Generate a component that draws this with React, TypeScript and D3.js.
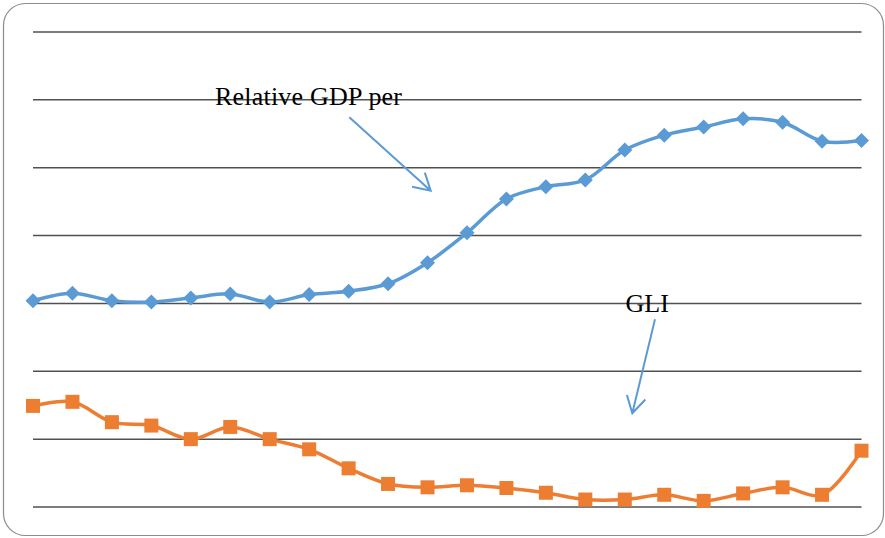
import React from "react";
import * as d3 from "d3";

const periods: number[] = d3.range(22);
const gdpValues: number[] = [3.04, 3.15, 3.04, 3.02, 3.08, 3.14, 3.02, 3.13, 3.18, 3.29, 3.6, 4.04, 4.54, 4.72, 4.82, 5.26, 5.48, 5.6, 5.72, 5.67, 5.39, 5.4];
const gliValues: number[] = [1.49, 1.55, 1.25, 1.2, 1.0, 1.18, 1.0, 0.85, 0.57, 0.34, 0.29, 0.32, 0.28, 0.21, 0.11, 0.11, 0.18, 0.09, 0.2, 0.29, 0.18, 0.83];
const gridValues: number[] = [0, 1, 2, 3, 4, 5, 6, 7];

const W = 885;
const H = 538;

const BLUE = "#5B9BD5";
const ORANGE = "#ED7D31";

function arrowPath(x1: number, y1: number, x2: number, y2: number, len = 19, ang = Math.PI / 6) {
  const a = Math.atan2(y2 - y1, x2 - x1);
  const p1 = [x2 - len * Math.cos(a - ang), y2 - len * Math.sin(a - ang)];
  const p2 = [x2 - len * Math.cos(a + ang), y2 - len * Math.sin(a + ang)];
  return `M${x1},${y1}L${x2},${y2}M${p1[0]},${p1[1]}L${x2},${y2}L${p2[0]},${p2[1]}`;
}

export default function App() {
  const x = d3.scaleLinear().domain([0, 21]).range([33, 861.5]);
  const y = d3.scaleLinear().domain([0, 7]).range([507, 32]);

  const line = d3
    .line<number>()
    .x((_, i) => x(periods[i]))
    .y((d) => y(d))
    .curve(d3.curveCatmullRom.alpha(0.5));

  const ds = 7.5; // diamond half-diagonal
  const sq = 14; // square side

  return (
    <svg width={W} height={H} style={{ position: "absolute", left: 0, top: 0, background: "#fff" }}>
      <rect x={3.5} y={3.5} width={880} height={532} rx={22} ry={22} fill="#fff" stroke="#8c8c8c" strokeWidth={1.2} />
      {gridValues.map((g) => (
        <line key={g} x1={33} x2={861.5} y1={y(g)} y2={y(g)} stroke="#505050" strokeWidth={1.5} />
      ))}
      <path d={line(gdpValues) || ""} fill="none" stroke={BLUE} strokeWidth={3.5} strokeLinejoin="round" />
      {gdpValues.map((v, i) => (
        <path
          key={"d" + i}
          d={`M${x(periods[i])},${y(v) - ds}L${x(periods[i]) + ds},${y(v)}L${x(periods[i])},${y(v) + ds}L${x(periods[i]) - ds},${y(v)}Z`}
          fill={BLUE}
        />
      ))}
      <path d={line(gliValues) || ""} fill="none" stroke={ORANGE} strokeWidth={3.5} strokeLinejoin="round" />
      {gliValues.map((v, i) => (
        <rect key={"s" + i} x={x(periods[i]) - sq / 2} y={y(v) - sq / 2} width={sq} height={sq} fill={ORANGE} />
      ))}
      <text x={215} y={104.5} fontFamily="'Liberation Serif', 'Times New Roman', serif" fontSize={26} textLength={187} fill="#000">
        Relative GDP per
      </text>
      <text x={625.5} y={311.5} fontFamily="'Liberation Serif', 'Times New Roman', serif" fontSize={26} fill="#000">
        GLI
      </text>
      <path d={arrowPath(349.3, 117.3, 430.7, 190.7)} fill="none" stroke={BLUE} strokeWidth={2} />
      <path d={arrowPath(655, 319.3, 632.3, 413.3)} fill="none" stroke={BLUE} strokeWidth={2} />
    </svg>
  );
}
